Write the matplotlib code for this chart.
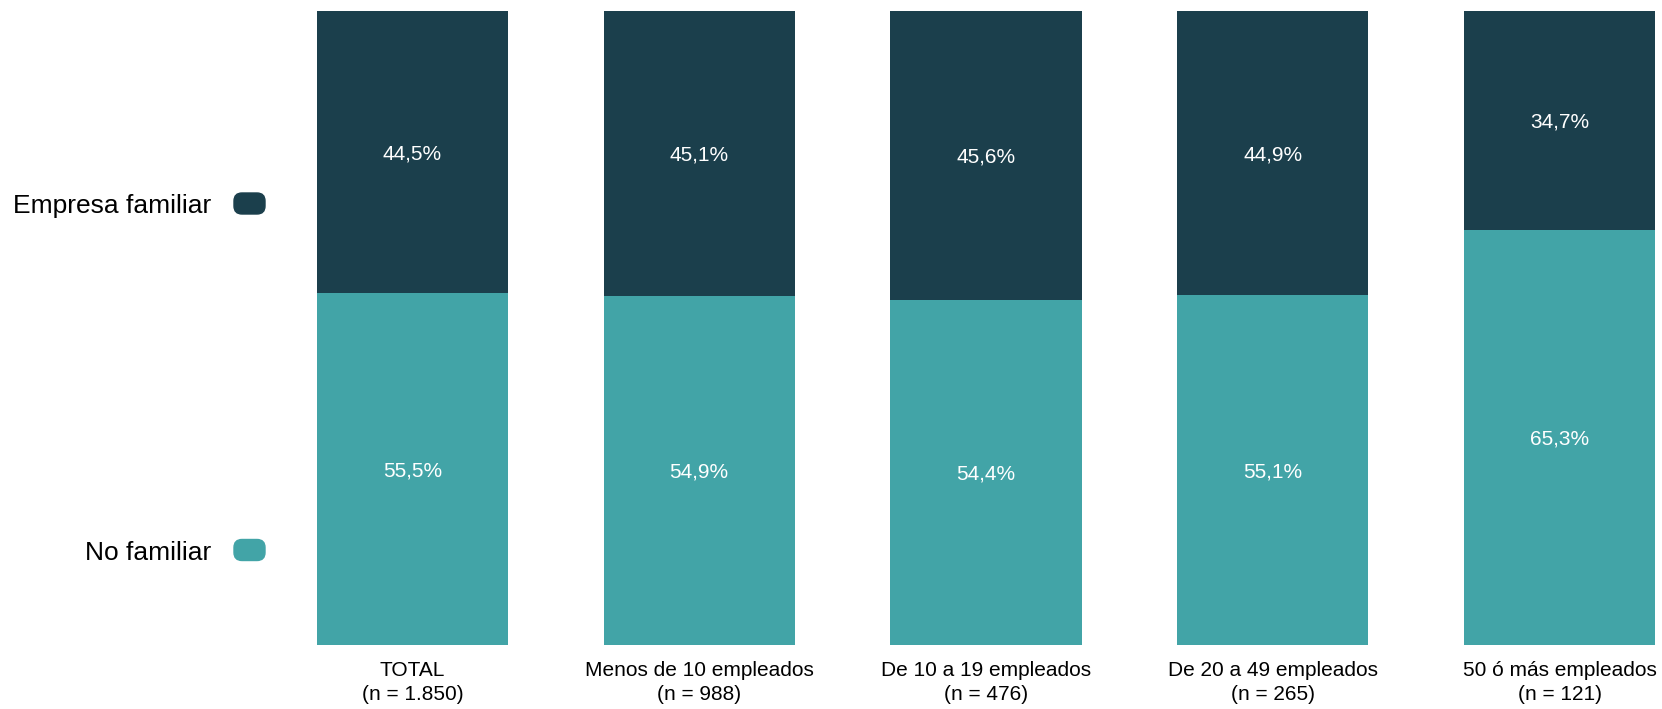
import matplotlib.pyplot as plt
from matplotlib.patches import FancyBboxPatch

plt.rcParams['font.family'] = ['Liberation Sans', 'DejaVu Sans']

categories = ['TOTAL\n(n = 1.850)', 'Menos de 10 empleados\n(n = 988)',
              'De 10 a 19 empleados\n(n = 476)', 'De 20 a 49 empleados\n(n = 265)',
              '50 ó más empleados\n(n = 121)']
no_familiar = [55.5, 54.9, 54.4, 55.1, 65.3]
familiar = [44.5, 45.1, 45.6, 44.9, 34.7]

dark = '#1B3F4C'
teal = '#42A4A7'

W, H = 1662, 709
fig = plt.figure(figsize=(W / 100, H / 100), dpi=100)
# axes placed so bars line up with the reference
ax = fig.add_axes([312 / W, 64.5 / H, (1660 - 312) / W, 634 / H])

x = list(range(len(categories)))
ax.bar(x, no_familiar, width=0.666, color=teal)
ax.bar(x, familiar, width=0.666, bottom=no_familiar, color=dark)

for i in x:
    ax.text(i, no_familiar[i] / 2, f'{no_familiar[i]:.1f}%'.replace('.', ','),
            ha='center', va='center_baseline', color='white', fontsize=15)
    ax.text(i, no_familiar[i] + familiar[i] / 2, f'{familiar[i]:.1f}%'.replace('.', ','),
            ha='center', va='center_baseline', color='white', fontsize=15)

ax.set_xlim(-0.35, 4.35)
ax.set_ylim(0, 100)
ax.set_xticks(x)
ax.set_xticklabels(categories, fontsize=15, linespacing=1.3)
ax.tick_params(axis='x', length=0, pad=12)
ax.set_yticks([])
for s in ax.spines.values():
    s.set_visible(False)

# legend on the left (pixel coordinates, origin bottom-left)
for label, color, yc in [('Empresa familiar', dark, 203.5), ('No familiar', teal, 550)]:
    py = H - yc
    fig.text(211 / W, py / H, label, ha='right', va='center_baseline', fontsize=19)
    fig.patches.append(FancyBboxPatch((234, py - 10.5), 31, 21,
                                      boxstyle='round,pad=0,rounding_size=8',
                                      transform=None, color=color))

fig.savefig('out.png', dpi=100)
